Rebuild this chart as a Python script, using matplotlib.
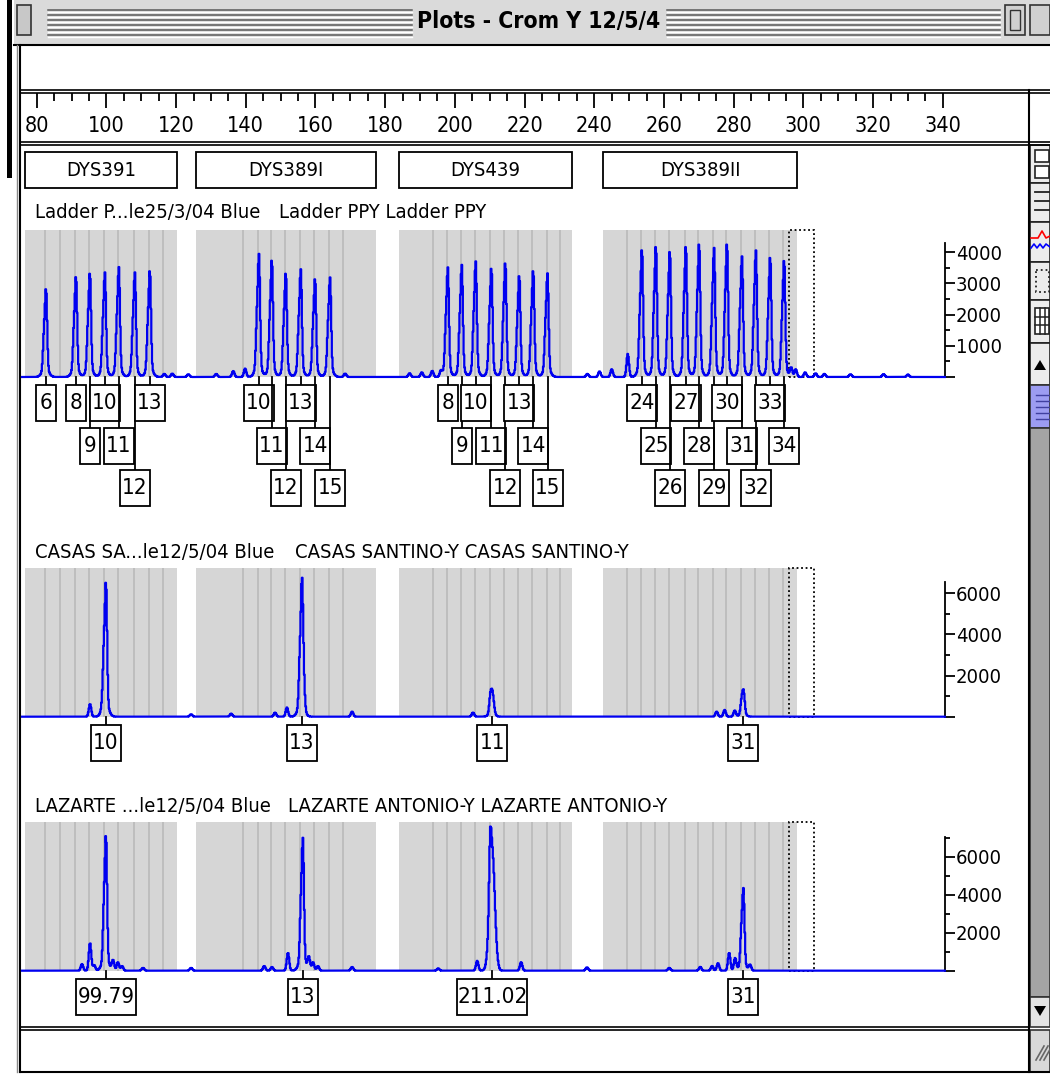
import numpy as np
import matplotlib
matplotlib.use('Agg')
import matplotlib.pyplot as plt
import matplotlib.transforms as mtransforms
from matplotlib.patches import Rectangle, Polygon
from matplotlib.ticker import FixedLocator
from matplotlib import font_manager

W, H = 1050, 1075


# buscar una fuente estrecha instalada
def find_narrow(bold=False):
    prefs = ['liberation sans narrow', 'dejavu sans condensed', 'dejavu sans',
             'roboto condensed', 'open sans condensed', 'noto sans']
    found = []
    for f in font_manager.fontManager.ttflist:
        key = (f.name + ' ' + f.fname).lower()
        if not ('narrow' in key or 'condensed' in key or f.stretch in ('condensed', 'semi-condensed')):
            continue
        if f.style != 'normal':
            continue
        w = f.weight if isinstance(f.weight, int) else (700 if 'bold' in str(f.weight) else 400)
        if bold != (w >= 600):
            continue
        rank = len(prefs)
        for i, p in enumerate(prefs):
            if p in key:
                rank = i
                break
        found.append((rank, f.fname))
    if found:
        found.sort()
        return found[0][1]
    return None


reg = find_narrow(False)
bld = find_narrow(True)
if reg:
    FP = font_manager.FontProperties(fname=reg)
    FPB = font_manager.FontProperties(fname=bld) if bld else font_manager.FontProperties(fname=reg)
    SC = 1.0
else:
    FP = font_manager.FontProperties(family='DejaVu Sans')
    FPB = font_manager.FontProperties(family='DejaVu Sans', weight='bold')
    SC = 0.8

# ---------------- datos ----------------
marker_names = ['DYS391', 'DYS389I', 'DYS439', 'DYS389II']
marker_start = [76.6, 125.8, 184.0, 242.6]
marker_end = [120.2, 177.4, 233.5, 298.1]
window_bp = [295.8, 303.0]

bins_bp = [82.7, 87.0, 91.3, 95.3, 99.6, 103.6, 108.2, 112.5, 116.5,
           139.6, 143.8, 147.5, 151.5, 155.8, 159.9, 164.2, 168.2,
           194.0, 198.0, 202.0, 206.0, 210.5, 214.5, 218.5, 222.5, 226.6, 230.6,
           249.6, 253.7, 257.7, 261.7, 266.3, 270.1, 274.4, 278.1, 282.4,
           286.4, 290.5, 294.5]

ruler_ticks = [80, 100, 120, 140, 160, 180, 200, 220, 240, 260, 280, 300, 320, 340]

# Ladder PPY
ladder_label = ['6', '8', '9', '10', '11', '12', '13',
                '10', '11', '12', '13', '14', '15',
                '8', '9', '10', '11', '12', '13', '14', '15',
                '24', '25', '26', '27', '28', '29', '30', '31', '32', '33', '34']
ladder_bp = [82.7, 91.3, 95.3, 99.6, 103.6, 108.2, 112.5,
             143.8, 147.5, 151.5, 155.8, 159.9, 164.2,
             198.0, 202.0, 206.0, 210.5, 214.5, 218.5, 222.5, 226.6,
             253.7, 257.7, 261.7, 266.3, 270.1, 274.4, 278.1, 282.4, 286.4, 290.5, 294.5]
ladder_rfu = [2830, 3220, 3330, 3330, 3500, 3330, 3410,
              3920, 3750, 3330, 3430, 3150, 3170,
              3490, 3570, 3680, 3490, 3660, 3250, 3410, 3300,
              4085, 4190, 4030, 4190, 4270, 4110, 4270, 3840, 4030, 3840, 3740]
ladder_minor_bp = [116.6, 118.9, 123.5, 131.5, 136.4, 139.8, 168.5, 187.0, 190.5,
                   193.5, 196.0, 238.0, 241.5, 245.0, 249.6, 296.5, 297.8, 300.5,
                   303.5, 306.0, 313.5, 323.0, 330.0]
ladder_minor_rfu = [100, 110, 90, 100, 190, 270, 110, 120, 150,
                    200, 180, 100, 180, 250, 740, 300, 250, 150,
                    120, 100, 90, 90, 80]

# CASAS SANTINO-Y
casas_label = ['10', '13', '11', '31']
casas_bp = [99.9, 156.1, 210.7, 282.8]
casas_rfu = [6550, 5900, 1330, 1330]
casas_minor_bp = [95.3, 98.9, 124.3, 135.8, 148.4, 151.8, 156.5, 170.5, 205.2,
                  275.1, 277.4, 280.3]
casas_minor_rfu = [620, 350, 120, 150, 200, 450, 1800, 250, 200,
                   250, 330, 300]

# LAZARTE ANTONIO-Y
lazarte_label = ['99.79', '13', '211.02', '31']
lazarte_bp = [99.9, 156.4, 210.7, 282.8]
lazarte_rfu = [7140, 6960, 6700, 4330]
lazarte_sigma = [0.3, 0.3, 0.75, 0.3]
lazarte_minor_bp = [93.0, 95.3, 96.5, 101.9, 103.3, 104.5, 110.5, 124.3, 145.3,
                    147.5, 152.1, 158.1, 159.3, 160.7, 170.5, 195.2, 206.4, 219.0,
                    237.9, 261.5, 270.4, 273.8, 275.5, 278.7, 280.4, 284.7]
lazarte_minor_rfu = [350, 1470, 300, 550, 450, 250, 150, 150, 250,
                     200, 950, 700, 450, 250, 200, 120, 520, 450,
                     180, 150, 200, 250, 400, 950, 650, 300]

# ---------------- figura ----------------
fig = plt.figure(figsize=(W / 100, H / 100), dpi=100)
bg = fig.add_axes([0, 0, 1, 1])
bg.set_xlim(0, W)
bg.set_ylim(H, 0)
bg.axis('off')


def px_axes(x0, y0, x1, y1):
    return fig.add_axes([x0 / W, 1 - y1 / H, (x1 - x0) / W, (y1 - y0) / H])


X0_PX, X1_PX = 22, 945
BP_AT_80, PX_PER_BP = 36.7, 3.485
xlim = (80 + (X0_PX - BP_AT_80) / PX_PER_BP, 80 + (X1_PX - BP_AT_80) / PX_PER_BP)

# marco de ventana
bg.add_patch(Rectangle((14, 0), W - 14, 45, fc='#dadada', ec='none'))
for yy in [10, 15, 20, 25, 30, 35]:
    bg.plot([48, 412], [yy, yy], color='#5a5a5a', lw=1.1)
    bg.plot([667, 1000], [yy, yy], color='#5a5a5a', lw=1.1)
    bg.plot([48, 412], [yy + 2, yy + 2], color='white', lw=1)
    bg.plot([667, 1000], [yy + 2, yy + 2], color='white', lw=1)
bg.text(539, 22, 'Plots - Crom Y 12/5/4', ha='center', va='center',
        fontproperties=FPB, fontsize=16.5 * SC)
bg.add_patch(Rectangle((17, 5), 14, 30, fc='#c8c8c8', ec='#333333', lw=1.2))
bg.add_patch(Rectangle((1005, 5), 20, 30, fc='#d0d0d0', ec='#333333', lw=1.2))
bg.add_patch(Rectangle((1010, 10), 10, 20, fc='none', ec='#333333', lw=1.0))
bg.add_patch(Rectangle((1030, 5), 20, 30, fc='#d0d0d0', ec='#333333', lw=1.2))
bg.plot([14, W], [45, 45], color='black', lw=1.5)
bg.add_patch(Rectangle((7, 0), 5, 178, fc='black', ec='none'))
bg.plot([20, 20], [45, 1072], color='black', lw=1.5)
bg.plot([17, 17], [45, 1072], color='#888888', lw=1)
for yy in [90, 92.5, 142, 144.5]:
    bg.plot([20, W], [yy, yy], color='black', lw=1.2)
bg.plot([1029, 1029], [90, 1072], color='black', lw=1.5)
for yy in [1027, 1029.5]:
    bg.plot([20, 1029], [yy, yy], color='black', lw=1.2)
bg.plot([20, W], [1072, 1072], color='black', lw=1.5)

# barra lateral
icon_y = [145, 183, 222, 262, 300, 343, 385]
for y0, y1 in zip(icon_y[:-1], icon_y[1:]):
    bg.add_patch(Rectangle((1030, y0), 20, y1 - y0, fc='#ececec', ec='#222222', lw=1.2))
bg.add_patch(Rectangle((1035, 150), 14, 12, fc='white', ec='#222222', lw=1.2))
bg.add_patch(Rectangle((1035, 166), 14, 12, fc='white', ec='#222222', lw=1.2))
for yy in [192, 201, 210]:
    bg.plot([1035, 1050], [yy, yy], color='#222222', lw=1.3)
bg.plot([1031, 1038, 1042, 1046, 1050], [238, 238, 231, 238, 236], color='red', lw=1.2)
bg.plot([1031, 1034, 1037, 1040, 1043, 1046, 1050], [248, 244, 248, 244, 248, 244, 247],
        color='blue', lw=1.2)
bg.add_patch(Rectangle((1036, 270), 13, 22, fc='none', ec='#222222', lw=1.3, ls=':'))
bg.add_patch(Rectangle((1035, 308), 14, 26, fc='white', ec='#222222', lw=1.2))
for yy in [316.5, 325]:
    bg.plot([1035, 1049], [yy, yy], color='#222222', lw=1.1)
for xx in [1040, 1045]:
    bg.plot([xx, xx], [308, 334], color='#222222', lw=1.1)
bg.add_patch(Polygon([[1034, 370], [1046, 370], [1040, 360]], closed=True, fc='black'))
bg.add_patch(Rectangle((1030, 385), 20, 43, fc='#9c9cf2', ec='#333333', lw=1.2))
for yy in [395, 401, 407, 413, 419]:
    bg.plot([1036, 1050], [yy, yy], color='#4040a0', lw=1)
bg.add_patch(Rectangle((1030, 428), 20, 569, fc='#a4a4a4', ec='#333333', lw=1.2))
bg.add_patch(Rectangle((1030, 997), 20, 30, fc='#e4e4e4', ec='#333333', lw=1.2))
bg.add_patch(Polygon([[1034, 1006], [1046, 1006], [1040, 1016]], closed=True, fc='black'))
bg.add_patch(Rectangle((1030, 1030), 20, 42, fc='#d8d8d8', ec='#333333', lw=1.2))
for k in range(3):
    bg.plot([1036 + 4 * k, 1044 + 4 * k], [1060, 1046], color='#666666', lw=1.2)

# regla
rul = px_axes(X0_PX, 92.5, X1_PX, 142)
rul.set_xlim(*xlim)
rul.set_ylim(0, 1)
rul.patch.set_alpha(0)
for s in rul.spines.values():
    s.set_visible(False)
rul.set_yticks([])
rul.xaxis.set_ticks_position('top')
rul.set_xticks(ruler_ticks)
rul.set_xticklabels([str(t) for t in ruler_ticks], fontproperties=FP, fontsize=15.5 * SC)
rul.xaxis.set_minor_locator(FixedLocator(np.arange(85, 340, 5)))
rul.tick_params(axis='x', which='major', direction='in', length=11, width=1.3,
                labeltop=True, labelbottom=False, pad=-31)
rul.tick_params(axis='x', which='minor', direction='in', length=5.5, width=1.3)

# cajas de marcadores
mk = px_axes(X0_PX, 150, X1_PX, 190)
mk.set_xlim(*xlim)
mk.set_ylim(0, 1)
mk.axis('off')
for name, s0, s1 in zip(marker_names, marker_start, marker_end):
    mk.add_patch(Rectangle((s0, 0.05), s1 - s0, 0.9, fc='white', ec='black', lw=1.3))
    mk.text((s0 + s1) / 2, 0.5, name, ha='center', va='center',
            fontproperties=FP, fontsize=14.5 * SC)


def peak_shape(x, p, h, s):
    k = (np.exp(-0.5 * ((x - p) / s) ** 2)
         + 0.45 * np.exp(-0.5 * ((x - p + 0.6) / 0.3) ** 2)
         + 0.12 * np.exp(-0.5 * ((x - p + 0.2) / 0.9) ** 2))
    k0 = 1 + 0.45 * np.exp(-0.5 * (0.6 / 0.3) ** 2) + 0.12 * np.exp(-0.5 * (0.2 / 0.9) ** 2)
    return h * k / k0


def make_trace(x, bps, rfus, sigmas, mbps, mrfus):
    y = np.zeros_like(x)
    for p, h, s in zip(bps, rfus, sigmas):
        y += peak_shape(x, p, h, s)
    for p, h in zip(mbps, mrfus):
        y += h * np.exp(-0.5 * ((x - p) / 0.35) ** 2)
    return y


def place_rows(centers, halfw, gap=2.0):
    ends, rows = [], []
    for c, hw in zip(centers, halfw):
        r = 0
        while r < len(ends) and c - hw < ends[r] + gap:
            r += 1
        if r == len(ends):
            ends.append(c + hw)
        else:
            ends[r] = c + hw
        rows.append(r)
    return rows


panels = [
    dict(base=377, top=230, ppk=31.25, spine=4290, yt=[0, 1000, 2000, 3000, 4000],
         ym=[500, 1500, 2500, 3500], hy=213,
         h1='Ladder P...le25/3/04 Blue', h2='Ladder PPY Ladder PPY', h2x=279,
         lab=ladder_label, bp=ladder_bp, rfu=ladder_rfu, sig=[0.3] * len(ladder_bp),
         mbp=ladder_minor_bp, mrfu=ladder_minor_rfu),
    dict(base=716.7, top=568.3, ppk=20.56, spine=6570, yt=[0, 2000, 4000, 6000],
         ym=[1000, 3000, 5000], hy=553,
         h1='CASAS SA...le12/5/04 Blue', h2='CASAS SANTINO-Y CASAS SANTINO-Y', h2x=295,
         lab=casas_label, bp=casas_bp, rfu=casas_rfu, sig=[0.3, 0.3, 0.45, 0.35],
         mbp=casas_minor_bp, mrfu=casas_minor_rfu),
    dict(base=970.7, top=822.3, ppk=19.0, spine=7050, yt=[0, 2000, 4000, 6000],
         ym=[1000, 3000, 5000, 7000], hy=807,
         h1='LAZARTE ...le12/5/04 Blue', h2='LAZARTE ANTONIO-Y LAZARTE ANTONIO-Y', h2x=288,
         lab=lazarte_label, bp=lazarte_bp, rfu=lazarte_rfu, sig=lazarte_sigma,
         mbp=lazarte_minor_bp, mrfu=lazarte_minor_rfu),
]

x = np.arange(xlim[0], xlim[1], 0.2)

for cfg in panels:
    base, top = cfg['base'], cfg['top']
    ymax = (base - top) / cfg['ppk'] * 1000
    ax = px_axes(X0_PX, top, X1_PX, base)
    ax.set_xlim(*xlim)
    ax.set_ylim(0, ymax)
    ax.patch.set_alpha(0)

    for s0, s1 in zip(marker_start, marker_end):
        ax.axvspan(s0, s1, color='#d6d6d6', lw=0, zorder=0)
    for b in bins_bp:
        ax.axvline(b - 0.3, color='#bcbcbc', lw=1.3, zorder=0.5)
    ax.add_patch(Rectangle((window_bp[0], 0), window_bp[1] - window_bp[0], ymax,
                           fill=False, ec='black', lw=1.3, ls=(0, (1, 1.5)), zorder=1,
                           clip_on=False))

    y = make_trace(x, cfg['bp'], cfg['rfu'], cfg['sig'], cfg['mbp'], cfg['mrfu'])
    ax.plot(x, y, color='#0000f0', lw=1.6, zorder=3, clip_on=False,
            drawstyle='steps-mid')

    for s in ['top', 'left', 'bottom']:
        ax.spines[s].set_visible(False)
    ax.spines['right'].set_bounds(0, cfg['spine'])
    ax.spines['right'].set_linewidth(1.3)
    ax.set_xticks([])
    ax.yaxis.tick_right()
    ax.set_yticks(cfg['yt'])
    ax.set_yticklabels([''] + [str(v) for v in cfg['yt'][1:]], fontproperties=FP,
                       fontsize=14.5 * SC)
    ax.yaxis.set_minor_locator(FixedLocator(cfg['ym']))
    ax.tick_params(axis='y', which='major', direction='out', length=7.5, width=1.3, pad=0.5)
    ax.tick_params(axis='y', which='minor', direction='out', length=3.5, width=1.3)

    bg.text(35, cfg['hy'], cfg['h1'], ha='left', va='center',
            fontproperties=FP, fontsize=14.5 * SC)
    bg.text(cfg['h2x'], cfg['hy'], cfg['h2'], ha='left', va='center',
            fontproperties=FP, fontsize=14.5 * SC)

    # etiquetas de alelos
    blend = mtransforms.blended_transform_factory(ax.transData, bg.transData)
    ppb = ax.transData.transform((1, 0))[0] - ax.transData.transform((0, 0))[0]
    centers = [ax.transData.transform((b, 0))[0] for b in cfg['bp']]
    halfw = [5 + 5 * len(t) for t in cfg['lab']]
    rows = place_rows(centers, halfw)
    for t, b, hw, r in zip(cfg['lab'], cfg['bp'], halfw, rows):
        ytop = base + 8 + 42.5 * r
        ax.plot([b, b], [base, ytop], transform=blend, color='black', lw=1.3,
                clip_on=False, zorder=4)
        ax.add_patch(Rectangle((b - hw / ppb, ytop), 2 * hw / ppb, 36, transform=blend,
                               fc='white', ec='black', lw=1.3, clip_on=False, zorder=4))
        ax.text(b, ytop + 18, t, transform=blend, ha='center', va='center',
                fontproperties=FP, fontsize=16 * SC, zorder=5, clip_on=False)

fig.savefig('out.png', dpi=100)
